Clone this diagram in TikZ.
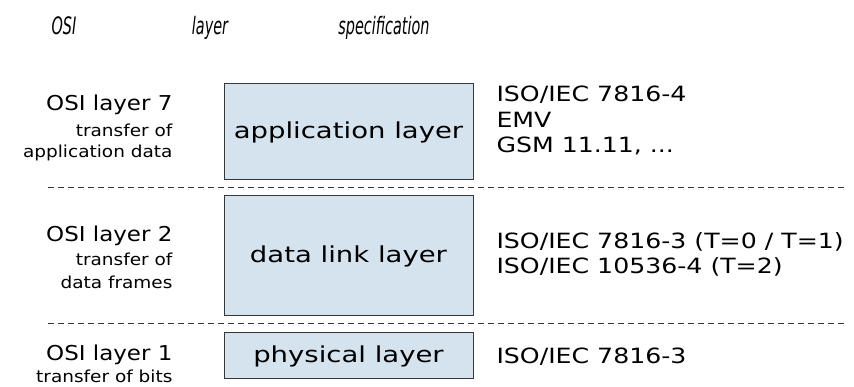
\documentclass[tikz,border=0pt]{standalone}
\usepackage{fontspec}
\setmainfont[FakeStretch=1.12]{DejaVu Sans}
\newfontfamily\headfont[FakeStretch=0.6]{DejaVu Sans}
\newfontfamily\boxfont[FakeStretch=1.25]{DejaVu Sans}
\newfontfamily\specfont[FakeStretch=1.2]{DejaVu Sans}
\definecolor{layerfill}{RGB}{213,227,238}
\definecolor{layerline}{RGB}{55,55,55}
\begin{document}
\begin{tikzpicture}[x=1pt,y=-1pt,
  head/.style={font=\headfont\itshape\fontsize{24}{27}\selectfont, anchor=base},
  osi/.style={font=\fontsize{20.5}{24}\selectfont, anchor=base east},
  role/.style={font=\fontsize{16.5}{20}\selectfont, anchor=base east},
  spec/.style={font=\specfont\fontsize{21}{24}\selectfont, anchor=base west},
  layerbox/.style={draw=layerline, fill=layerfill, line width=0.9pt},
  layername/.style={font=\boxfont\fontsize{22}{25}\selectfont},
  sep/.style={draw=layerline, line width=0.9pt, dash pattern=on 6pt off 4pt}]
\useasboundingbox (0,0) rectangle (854,387);

% column headings
\node[head] (hosi) at (64,35) {OSI};
\node[head] (hlayer) at (210,35) {layer};
\node[head] (hspec) at (384,35) {specification};

% layer boxes
\draw[layerbox] (224,83) rectangle (473,179);
\node[layername] (app) at (348.5,132.5) {application layer};
\draw[layerbox] (224,195) rectangle (473,315);
\node[layername] (dll) at (348.5,256.5) {data link layer};
\draw[layerbox] (224,332) rectangle (473,378);
\node[layername] (phy) at (348.5,356.5) {physical layer};

% separators
\coordinate (s1a) at (48,187);
\coordinate (s1b) at (845,187);
\coordinate (s2a) at (48,323);
\coordinate (s2b) at (845,323);
\draw[sep] (s1a) -- (s1b);
\draw[sep] (s2a) -- (s2b);

% OSI layer 7
\node[osi] (o7) at (176,111) {OSI layer 7};
\node[role] (o7a) at (176,137) {transfer of};
\node[role] (o7b) at (176,158) {application data};
\node[spec] (s7a) at (493,102) {ISO/IEC 7816-4};
\node[spec] (s7b) at (493,128) {EMV};
\node[spec] (s7c) at (493,153) {GSM 11.11, ...};

% OSI layer 2
\node[osi] (o2) at (176,242) {OSI layer 2};
\node[role] (o2a) at (176,266) {transfer of};
\node[role] (o2b) at (176,289) {data frames};
\node[spec] (s2x) at (493,249) {ISO/IEC 7816-3 (T=0 / T=1)};
\node[spec] (s2y) at (493,274) {ISO/IEC 10536-4 (T=2)};

% OSI layer 1
\node[osi] (o1) at (176,360) {OSI layer 1};
\node[role] (o1a) at (176,382) {transfer of bits};
\node[spec] (s1x) at (493,363) {ISO/IEC 7816-3};
\end{tikzpicture}
\end{document}
